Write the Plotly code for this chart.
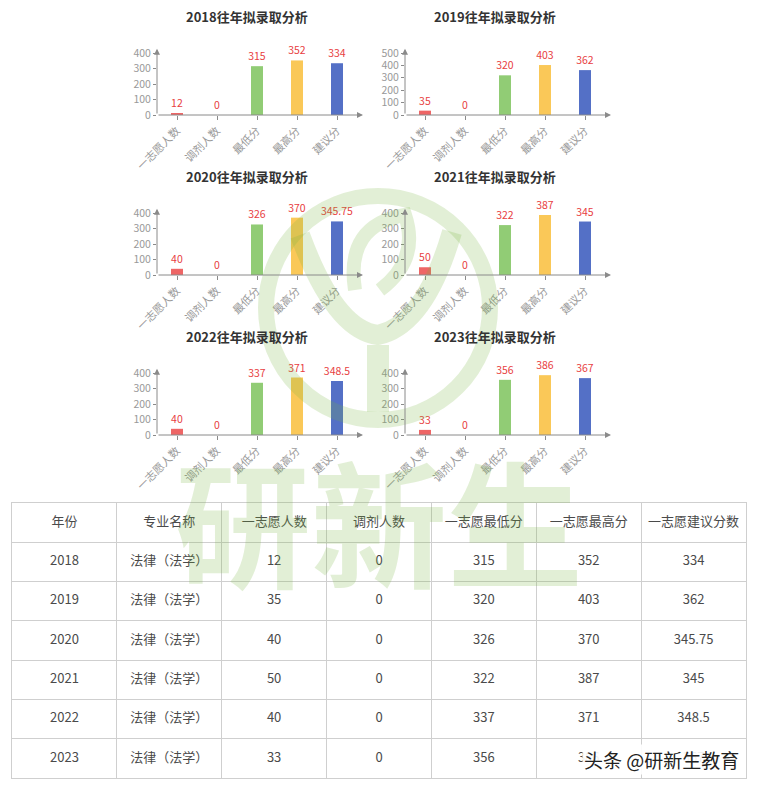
import plotly.graph_objects as go

W, H = 757, 785
OFF = 8  # page body margin
FW, FH = W - OFF, H - OFF

years = ['2018', '2019', '2020', '2021', '2022', '2023']
categories = ['一志愿人数', '调剂人数', '最低分', '最高分', '建议分']
first_choice = [12, 35, 40, 50, 40, 33]
adjusted = [0, 0, 0, 0, 0, 0]
min_score = [315, 320, 326, 322, 337, 356]
max_score = [352, 403, 370, 387, 371, 386]
suggested = [334, 362, 345.75, 345, 348.5, 367]
y_max = [400, 500, 400, 400, 400, 400]
y_ticks = [[0, 100, 200, 300, 400], [0, 100, 200, 300, 400, 500],
           [0, 100, 200, 300, 400], [0, 100, 200, 300, 400],
           [0, 100, 200, 300, 400], [0, 100, 200, 300, 400]]
major = '法律（法学）'
table_header = ['年份', '专业名称', '一志愿人数', '调剂人数', '一志愿最低分', '一志愿最高分', '一志愿建议分数']

bar_colors = ['#ee6666', '#73c0de', '#91cc75', '#fac858', '#5470c6']
label_color = '#e8403f'
axis_color = '#8a8a8a'
tick_font_color = '#999999'
FONT = 'Noto Sans CJK SC'


def px_x(p):
    return (p - OFF) / FW


def px_y(p):
    return 1 - (p - OFF) / FH


fig = go.Figure()
annotations = []
layout_axes = {}

for i, yr in enumerate(years):
    col, row = i % 2, i // 2
    vals = [first_choice[i], adjusted[i], min_score[i], max_score[i], suggested[i]]
    sfx = '' if i == 0 else str(i + 1)
    x0 = 157 if col == 0 else 405
    x1 = x0 + 200
    y_zero = 115 + 160 * row
    y_top = 53 + 160 * row
    fig.add_trace(go.Bar(
        x=categories, y=vals, xaxis='x' + sfx, yaxis='y' + sfx,
        marker=dict(color=bar_colors, line=dict(width=0)),
        width=0.3,
        text=[f'{v:g}' for v in vals], textposition='outside', constraintext='none',
        textfont=dict(color=label_color, size=10.5, family=FONT),
        cliponaxis=False, showlegend=False, hoverinfo='x+y'))
    layout_axes['xaxis' + sfx] = dict(
        domain=[px_x(x0), px_x(x1)], anchor='y' + sfx, automargin=False,
        range=[-0.5, 4.5], type='category', categoryorder='array', categoryarray=categories,
        showline=False, showgrid=False, zeroline=False,
        ticks='outside', ticklen=4, tickcolor=axis_color, tickwidth=1,
        tickangle=-45, tickfont=dict(size=11, color=tick_font_color, family=FONT),
        fixedrange=True)
    layout_axes['yaxis' + sfx] = dict(
        domain=[px_y(y_zero), px_y(y_top)], anchor='x' + sfx, automargin=False,
        range=[0, y_max[i]], tickvals=y_ticks[i],
        showline=False, showgrid=False, zeroline=False,
        ticks='outside', ticklen=3, tickcolor=axis_color,
        tickfont=dict(size=10.5, color=tick_font_color, family=FONT),
        fixedrange=True)
    xr = 'x' + sfx
    yr_ = 'y' + sfx
    annotations.append(dict(x=4.65, y=0, ax=-0.5, ay=0, xref=xr, yref=yr_, axref=xr, ayref=yr_,
                            showarrow=True, arrowhead=2, arrowsize=1.2, arrowwidth=1,
                            arrowcolor=axis_color, text=''))
    annotations.append(dict(x=-0.5, y=y_max[i] * 1.07, ax=-0.5, ay=0, xref=xr, yref=yr_, axref=xr, ayref=yr_,
                            showarrow=True, arrowhead=2, arrowsize=1.2, arrowwidth=1,
                            arrowcolor=axis_color, text=''))
    annotations.append(dict(text=f'<b>{yr}往年拟录取分析</b>', xref='paper', yref='paper',
                            x=px_x(247 if col == 0 else 495), y=px_y(16 + 160 * row),
                            xanchor='center', yanchor='middle', showarrow=False,
                            font=dict(size=13, color='#333333', family=FONT)))

# ---- table drawn on its own axis: columns x = 0..6, rows y = 0..6 (0 = header)
columns = [years, [major] * len(years), [str(v) for v in first_choice], [str(v) for v in adjusted],
           [str(v) for v in min_score], [str(v) for v in max_score], [f'{v:g}' for v in suggested]]
n_cols = len(table_header)
n_rows = len(years) + 1
tx, ty, tt = [], [], []
for c in range(n_cols):
    tx.append(c); ty.append(0); tt.append(table_header[c])
    for r, v in enumerate(columns[c]):
        tx.append(c); ty.append(r + 1); tt.append(v)
fig.add_trace(go.Scatter(
    x=tx, y=ty, text=tt, mode='text', textposition='middle center',
    textfont=dict(size=13, color='#4a4a4a', family=FONT),
    xaxis='x7', yaxis='y7', showlegend=False, hoverinfo='skip', cliponaxis=False))
grid_col = '#cfcfcf'
layout_axes['xaxis7'] = dict(
    domain=[px_x(12), px_x(746)], anchor='y7', range=[-0.5, n_cols - 0.5], automargin=False,
    tickvals=[k + 0.5 for k in range(n_cols - 1)], showticklabels=False, ticks='',
    showgrid=True, gridcolor=grid_col, gridwidth=1, zeroline=False,
    showline=True, mirror=True, linecolor=grid_col, linewidth=1, fixedrange=True)
layout_axes['yaxis7'] = dict(
    domain=[px_y(778), px_y(503)], anchor='x7', range=[n_rows - 0.5, -0.5], automargin=False,
    tickvals=[k + 0.5 for k in range(n_rows - 1)], showticklabels=False, ticks='',
    showgrid=True, gridcolor=grid_col, gridwidth=1, zeroline=False,
    showline=True, mirror=True, linecolor=grid_col, linewidth=1, fixedrange=True)

# ---- watermark (decorative)
wm = 'rgba(120,180,60,0.21)'
shapes = [
    dict(type='circle', xref='paper', yref='paper',
         x0=px_x(266), x1=px_x(490), y0=px_y(420), y1=px_y(196),
         line=dict(color=wm, width=16), layer='above'),
    dict(type='path', xref='paper', yref='paper',
         path=f'M {px_x(300)},{px_y(235)} Q {px_x(335)},{px_y(330)} {px_x(378)},{px_y(335)} '
              f'Q {px_x(425)},{px_y(325)} {px_x(452)},{px_y(232)}',
         line=dict(color=wm, width=20), layer='above'),
    dict(type='path', xref='paper', yref='paper',
         path=f'M {px_x(378)},{px_y(345)} L {px_x(378)},{px_y(412)}',
         line=dict(color=wm, width=22), layer='above'),
    dict(type='path', xref='paper', yref='paper',
         path=f'M {px_x(355)},{px_y(290)} Q {px_x(345)},{px_y(225)} {px_x(405)},{px_y(215)} '
              f'Q {px_x(420)},{px_y(260)} {px_x(380)},{px_y(290)}',
         line=dict(color=wm, width=14), layer='above'),
]
annotations.append(dict(text='<b>研新生</b>', xref='paper', yref='paper',
                        x=px_x(379), y=px_y(518), xanchor='center', yanchor='middle',
                        showarrow=False, font=dict(size=136, color=wm, family=FONT)))
annotations.append(dict(text='头条 @研新生教育', xref='paper', yref='paper',
                        x=px_x(741), y=px_y(759), xanchor='right', yanchor='middle',
                        showarrow=False, bgcolor='rgba(255,255,255,0.92)', borderpad=1,
                        font=dict(size=19, color='#222222', family=FONT)))

fig.update_layout(
    width=FW, height=FH, margin=dict(l=0, r=0, t=0, b=0, pad=0, autoexpand=False),
    paper_bgcolor='white', plot_bgcolor='rgba(0,0,0,0)',
    font=dict(family=FONT), bargap=0.7,
    annotations=annotations, shapes=shapes, **layout_axes)

fig.write_html('out.html')
